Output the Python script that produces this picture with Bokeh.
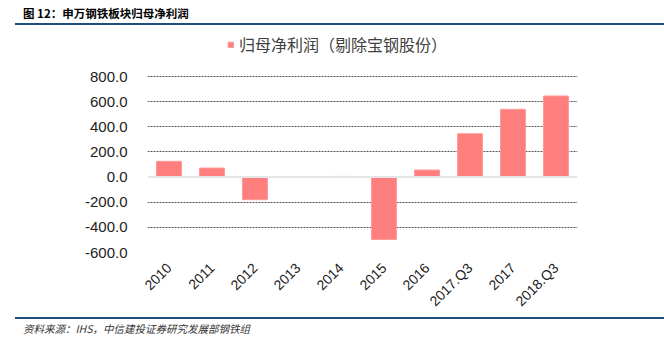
from bokeh.plotting import figure
from bokeh.models import (FactorRange, Range1d, FixedTicker, PrintfTickFormatter, Span,
                          Legend, LegendItem, Div)
from bokeh.layouts import column
from bokeh.embed import file_html
from bokeh.resources import INLINE
import math

categories = ["2010", "2011", "2012", "2013", "2014", "2015", "2016", "2017.Q3", "2017", "2018.Q3"]
profit = [125.0, 72.0, -180.0, 0.0, 5.0, -496.0, 56.0, 345.0, 539.0, 645.0]
y_ticks = [-600, -400, -200, 0, 200, 400, 600, 800]

title_text = "图 12：申万钢铁板块归母净利润"
legend_text = "归母净利润（剔除宝钢股份）"
source_text = "资料来源：IHS，中信建投证券研究发展部钢铁组"

W = 664
TOP_H = 28
BOT_H = 32
FIG_H = 349 - TOP_H - BOT_H  # 289

# frame: canvas y 28..252 ; -600..800 mapped to 252..76
px_per_unit = 176.0 / 1400.0
y_end = 800 + (76 - TOP_H) / px_per_unit

p = figure(width=W, height=FIG_H, x_range=FactorRange(*categories, range_padding=0),
           y_range=Range1d(-600, y_end), output_backend="svg", toolbar_location=None,
           min_border_left=147, min_border_right=87, min_border_top=0,
           min_border_bottom=FIG_H - (252 - TOP_H))
p.outline_line_color = None
p.background_fill_color = "white"
p.border_fill_color = "white"

r = p.vbar(x=categories, top=profit, bottom=0, width=0.58, fill_color="#FF7F7F",
           line_color="#FF9999", line_width=1)

p.xgrid.grid_line_color = None
p.ygrid.ticker = FixedTicker(ticks=[t for t in y_ticks if t != 0])
p.ygrid.grid_line_color = "#555555"
p.ygrid.grid_line_dash = "2 1"
p.ygrid.grid_line_width = 1

p.add_layout(Span(location=0, dimension="width", line_color="#e6e6e6", line_width=2))

p.yaxis.ticker = FixedTicker(ticks=y_ticks)
p.yaxis.formatter = PrintfTickFormatter(format="%.1f")
p.yaxis.axis_line_color = None
p.yaxis.major_tick_line_color = None
p.yaxis.minor_tick_line_color = None
p.yaxis.major_tick_out = 0
p.yaxis.minor_tick_out = 0
p.yaxis.major_label_text_font = "Liberation Sans"
p.yaxis.major_label_text_font_size = "15px"
p.yaxis.major_label_text_color = "#222222"
p.yaxis.major_label_standoff = 20

p.xaxis.axis_line_color = None
p.xaxis.major_tick_line_color = None
p.xaxis.major_tick_out = 0
p.xaxis.minor_tick_out = 0
p.xaxis.major_label_orientation = math.pi / 4
p.xaxis.major_label_text_font = "Liberation Sans"
p.xaxis.major_label_text_font_size = "14px"
p.xaxis.major_label_text_color = "#222222"
p.xaxis.major_label_standoff = 13

legend = Legend(items=[LegendItem(label=legend_text, renderers=[r])], location=(80, 196),
                glyph_width=7, glyph_height=7, label_standoff=5, padding=0, spacing=0, margin=0,
                border_line_color=None, background_fill_alpha=0,
                label_text_font="Noto Sans CJK SC", label_text_font_size="16px",
                label_text_color="#404040")
p.add_layout(legend, "center")

top_div = Div(width=W, height=TOP_H, margin=0, text=(
    '<div style="position:relative;width:664px;height:28px;">'
    '<div style="position:absolute;left:23px;top:3px;height:20px;line-height:20px;'
    "font-family:'Noto Sans CJK SC';font-weight:bold;font-size:11.5px;color:#000;white-space:nowrap;\">"
    + title_text + '</div>'
    '<div style="position:absolute;left:15px;top:23px;width:649px;height:2px;background:#1F4E79;"></div>'
    '</div>'))

bot_div = Div(width=W, height=BOT_H, margin=0, text=(
    '<div style="position:relative;width:664px;height:32px;">'
    '<div style="position:absolute;left:15px;top:0px;width:649px;height:2px;background:#1F4E79;"></div>'
    '<div style="position:absolute;left:23px;top:4px;height:16px;line-height:16px;'
    "font-family:'Noto Sans CJK SC';font-style:italic;font-size:10.5px;color:#333;white-space:nowrap;\">"
    + source_text + '</div>'
    '</div>'))

layout = column(top_div, p, bot_div, spacing=0)

open("out.html", "w").write(file_html(layout, INLINE))
